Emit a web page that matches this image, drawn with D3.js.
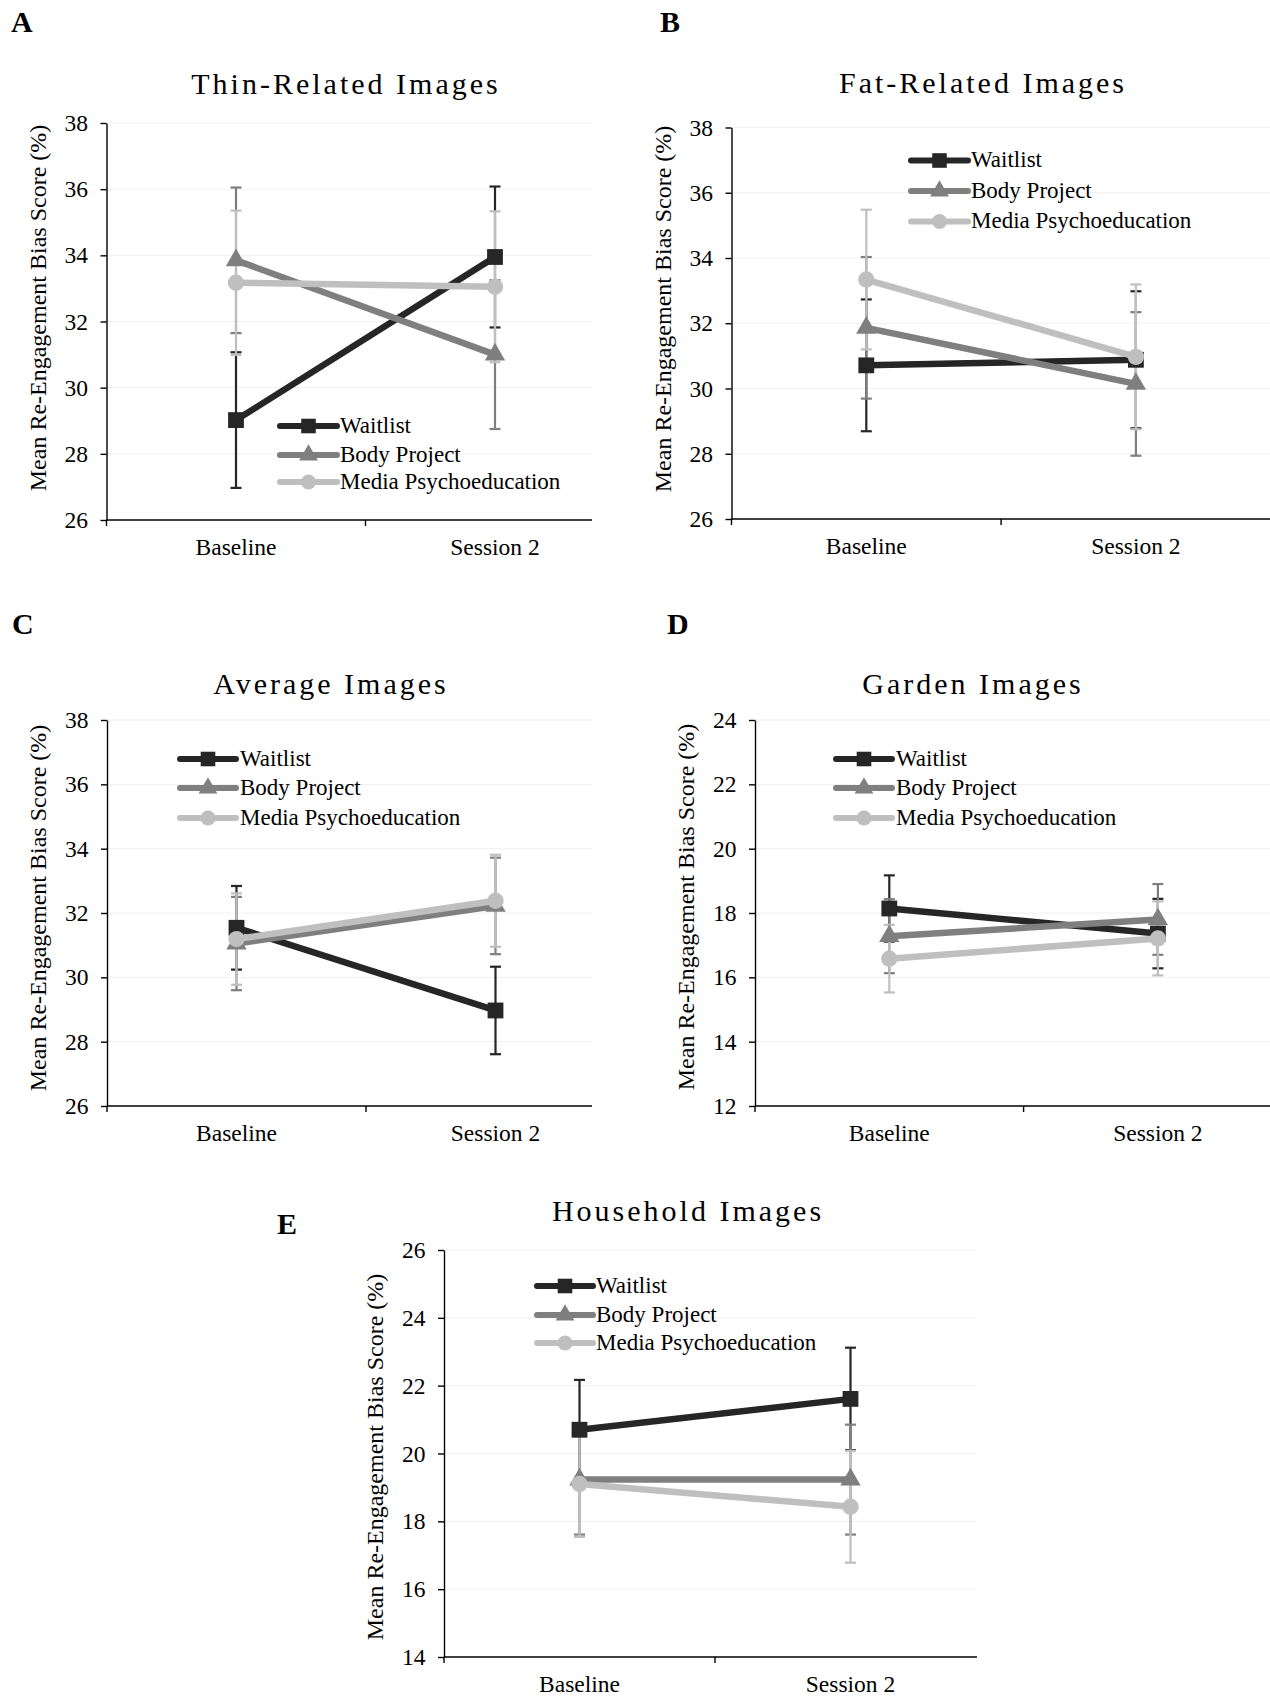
<!DOCTYPE html>
<html>
<head>
<meta charset="utf-8">
<script src="https://cdn.jsdelivr.net/npm/d3@7"></script>
<style>
  body { margin: 0; background: #fff; }
  svg { display: block; }
  text { font-family: "Liberation Serif", "Times New Roman", serif; fill: #000; }
</style>
</head>
<body>
<svg id="fig" width="1270" height="1699"></svg>
<script>
// ---- data ----
const categories = ["Baseline", "Session 2"];
const groups = ["Waitlist", "Body Project", "Media Psychoeducation"];
const panelLetters = ["A", "B", "C", "D", "E"];
const panelTitles = ["Thin-Related Images", "Fat-Related Images", "Average Images", "Garden Images", "Household Images"];
const yAxisTitle = "Mean Re-Engagement Bias Score (%)";

// tick values per panel
const ticksThin = [26, 28, 30, 32, 34, 36, 38];
const ticksFat = [26, 28, 30, 32, 34, 36, 38];
const ticksAverage = [26, 28, 30, 32, 34, 36, 38];
const ticksGarden = [12, 14, 16, 18, 20, 22, 24];
const ticksHousehold = [14, 16, 18, 20, 22, 24, 26];

// means [Baseline, Session 2] for Waitlist, Body Project, Media Psychoeducation
const thinMeans = [[29.02, 33.95], [33.85, 31.00], [33.17, 33.05]];
const thinErrors = [[2.05, 2.13], [2.20, 2.25], [2.18, 2.28]];

const fatMeans = [[30.71, 30.88], [31.86, 30.14], [33.34, 30.97]];
const fatErrors = [[2.02, 2.10], [2.17, 2.20], [2.14, 2.22]];

const averageMeans = [[31.54, 28.97], [31.05, 32.22], [31.19, 32.38]];
const averageErrors = [[1.30, 1.36], [1.45, 1.50], [1.42, 1.43]];

const gardenMeans = [[18.14, 17.36], [17.28, 17.80], [16.58, 17.21]];
const gardenErrors = [[1.03, 1.08], [1.15, 1.10], [1.05, 1.15]];

const householdMeans = [[20.70, 21.61], [19.23, 19.23], [19.10, 18.43]];
const householdErrors = [[1.47, 1.51], [1.62, 1.62], [1.56, 1.65]];

// ---- styling ----
const colors = ["#262626", "#7f7f7f", "#bfbfbf"];
const symbols = [d3.symbolSquare, d3.symbolTriangle, d3.symbolCircle];
const symbolSizes = [250, 180, 210];

// panel geometry
const layouts = [
  { left: 106.5, top: 123, bottom: 520, half: 129.5, clipRight: 592, titleX: 346, titleY: 94, letterX: 11, letterY: 32,
    labelY: 308, legX0: 280, legX1: 337, legText: 340, legRows: [426, 455, 482] },
  { left: 731.5, top: 127.5, bottom: 519, half: 134.8, clipRight: 1270, titleX: 983, titleY: 93, letterX: 660, letterY: 32,
    labelY: 309, legX0: 911, legX1: 968, legText: 971, legRows: [160.5, 191, 221.5] },
  { left: 107, top: 720, bottom: 1106, half: 129.5, clipRight: 592, titleX: 331, titleY: 694, letterX: 12, letterY: 634,
    labelY: 908, legX0: 180, legX1: 236, legText: 240, legRows: [759, 788, 818] },
  { left: 755, top: 720, bottom: 1106, half: 134.3, clipRight: 1270, titleX: 973, titleY: 694, letterX: 667, letterY: 634,
    labelY: 907, legX0: 836, legX1: 892, legText: 896, legRows: [759, 788, 818] },
  { left: 444, top: 1250, bottom: 1657, half: 135.5, clipRight: 977, titleX: 688, titleY: 1221, letterX: 277, letterY: 1234,
    labelY: 1457, legX0: 537, legX1: 593, legText: 596, legRows: [1286, 1315, 1343] }
];

const panelMeans = [thinMeans, fatMeans, averageMeans, gardenMeans, householdMeans];
const panelErrors = [thinErrors, fatErrors, averageErrors, gardenErrors, householdErrors];
const panelTicks = [ticksThin, ticksFat, ticksAverage, ticksGarden, ticksHousehold];

const svg = d3.select("#fig");
const defs = svg.append("defs");

function drawPanel(i) {
  const L = layouts[i];
  const ticks = panelTicks[i];
  const means = panelMeans[i];
  const errs = panelErrors[i];

  defs.append("clipPath").attr("id", "clip" + i)
    .append("rect").attr("x", 0).attr("y", 0).attr("width", L.clipRight).attr("height", 1699);

  const g = svg.append("g").attr("clip-path", `url(#clip${i})`);

  const x = d3.scaleBand().domain(categories).range([L.left, L.left + 4 * L.half]).padding(0);
  const y = d3.scaleLinear().domain([d3.min(ticks), d3.max(ticks)]).range([L.bottom, L.top]);
  const cx = c => x(c) + x.bandwidth() / 2;

  // faint horizontal gridlines
  g.append("g").selectAll("line").data(ticks.slice(1)).join("line")
    .attr("x1", L.left).attr("x2", x.range()[1])
    .attr("y1", d => y(d)).attr("y2", d => y(d))
    .attr("stroke", "#f0f0f0").attr("stroke-width", 1);

  // y axis
  const yAxis = g.append("g").attr("transform", `translate(${L.left},0)`)
    .call(d3.axisLeft(y).tickValues(ticks).tickSize(6).tickSizeOuter(0).tickPadding(12.5).tickFormat(d3.format("d")));
  yAxis.select(".domain").attr("stroke", "#000").attr("stroke-width", 1.4);
  yAxis.selectAll(".tick line").attr("stroke", "#000").attr("stroke-width", 1.4);
  yAxis.selectAll(".tick text").attr("font-size", 23.5).attr("fill", "#000");

  // x axis: line, tick marks on category boundaries, centred labels
  const bounds = categories.map(c => x(c)).concat([x.range()[1]]);
  g.append("line").attr("x1", L.left).attr("x2", x.range()[1])
    .attr("y1", L.bottom).attr("y2", L.bottom).attr("stroke", "#000").attr("stroke-width", 1.4);
  g.append("g").selectAll("line").data(bounds).join("line")
    .attr("x1", d => d).attr("x2", d => d)
    .attr("y1", L.bottom).attr("y2", L.bottom + 6)
    .attr("stroke", "#000").attr("stroke-width", 1.4);
  g.append("g").selectAll("text").data(categories).join("text")
    .attr("x", d => cx(d)).attr("y", L.bottom + 35)
    .attr("text-anchor", "middle").attr("font-size", 23.5).text(d => d);

  // axis title
  g.append("text")
    .attr("transform", `translate(${L.left - 61},${L.labelY}) rotate(-90)`)
    .attr("text-anchor", "middle").attr("font-size", 24).text(yAxisTitle);

  // error bars
  groups.forEach((grp, s) => {
    const eg = g.append("g").attr("stroke", colors[s]).attr("stroke-width", 2.2);
    categories.forEach((c, k) => {
      const m = means[s][k], e = errs[s][k];
      eg.append("line").attr("x1", cx(c)).attr("x2", cx(c)).attr("y1", y(m - e)).attr("y2", y(m + e));
      [m - e, m + e].forEach(v => {
        eg.append("line").attr("x1", cx(c) - 5.5).attr("x2", cx(c) + 5.5).attr("y1", y(v)).attr("y2", y(v));
      });
    });
  });

  // series lines and markers
  const line = d3.line().x((d, k) => cx(categories[k])).y(d => y(d));
  groups.forEach((grp, s) => {
    g.append("path").datum(means[s]).attr("d", line)
      .attr("fill", "none").attr("stroke", colors[s]).attr("stroke-width", 6.5)
      .attr("stroke-linecap", "round").attr("stroke-linejoin", "round");
    g.append("g").selectAll("path").data(means[s]).join("path")
      .attr("d", d3.symbol().type(symbols[s]).size(symbolSizes[s]))
      .attr("transform", (d, k) => `translate(${cx(categories[k])},${y(d)})`)
      .attr("fill", colors[s]);
  });

  // legend
  groups.forEach((grp, s) => {
    const ry = L.legRows[s];
    g.append("line").attr("x1", L.legX0).attr("x2", L.legX1).attr("y1", ry).attr("y2", ry)
      .attr("stroke", colors[s]).attr("stroke-width", 6).attr("stroke-linecap", "round");
    g.append("path").attr("d", d3.symbol().type(symbols[s]).size(symbolSizes[s] * 0.85)())
      .attr("transform", `translate(${(L.legX0 + L.legX1) / 2},${ry})`).attr("fill", colors[s]);
    g.append("text").attr("x", L.legText).attr("y", ry).attr("dy", "0.3em")
      .attr("font-size", 23).text(grp);
  });

  // title and panel letter
  svg.append("text").attr("x", L.titleX).attr("y", L.titleY).attr("text-anchor", "middle")
    .attr("font-size", 30).attr("letter-spacing", 3).text(panelTitles[i]);
  svg.append("text").attr("x", L.letterX).attr("y", L.letterY)
    .attr("font-size", 30).attr("font-weight", "bold").text(panelLetters[i]);
}

panelTitles.forEach((t, i) => drawPanel(i));
</script>
</body>
</html>
